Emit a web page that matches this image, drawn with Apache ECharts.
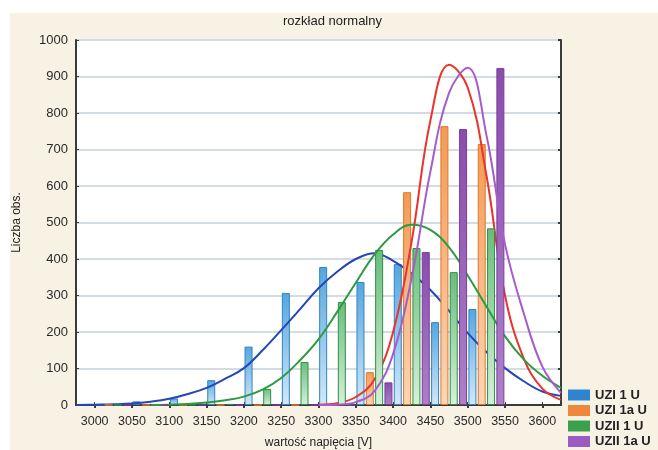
<!DOCTYPE html>
<html>
<head>
<meta charset="utf-8">
<script src="https://cdn.jsdelivr.net/npm/echarts@6/dist/echarts.min.js"></script>
<style>
  html, body { margin: 0; padding: 0; background: #ffffff; }
  #chart { width: 658px; height: 450px; }
</style>
</head>
<body>
<div id="chart"></div>
<script>
// Histogram bins (lower edges, V) and counts per measurement series
const binStarts = [3000, 3050, 3100, 3150, 3200, 3250, 3300, 3350, 3400, 3450, 3500];
const binWidth = 50;
const seriesNames = ['UZI 1 U', 'UZI 1a U', 'UZII 1 U', 'UZII 1a U'];
const countsUZI1   = [0, 10, 18, 68, 160, 307, 378, 337, 386, 227, 263];
const countsUZI1a  = [0, 0, 0, 0, 0, 0, 0, 90, 583, 764, 715];
const countsUZII1  = [0, 0, 1, 3, 44, 118, 282, 425, 430, 364, 484];
const countsUZII1a = [0, 0, 0, 0, 0, 0, 0, 62, 419, 756, 923];

// Fitted normal curves, sampled along the voltage axis
const fitX = [2975, 3000, 3025, 3050, 3075, 3100, 3125, 3150, 3175, 3200, 3225, 3250, 3275, 3300,
              3325, 3350, 3375, 3400, 3425, 3450, 3475, 3500, 3525, 3550, 3575, 3600, 3625];
const fitUZI1   = [0, 1, 2, 4, 9, 17, 30, 47, 72, 101, 150, 205, 262, 320,
                   365, 400, 416, 395, 360, 315, 258, 197, 145, 101, 65, 37, 25];
const fitUZI1a  = [null, null, null, null, null, null, null, null, null, null, null, null, null, 1,
                   5, 22, 70, 200, 450, 780, 932, 870, 630, 300, 128, 45, 14];
const fitUZII1  = [null, null, null, null, 0, 1, 3, 7, 13, 23, 42, 74, 122, 180,
                   255, 335, 412, 467, 494, 480, 432, 355, 270, 188, 125, 80, 47];
const fitUZII1a = [null, null, null, null, null, null, null, null, null, null, null, null, null, 0,
                   1, 8, 38, 140, 350, 640, 855, 924, 740, 440, 252, 105, 33];

// Axis ticks
const xTicks = [3000, 3050, 3100, 3150, 3200, 3250, 3300, 3350, 3400, 3450, 3500, 3550, 3600];
const yTicks = [0, 100, 200, 300, 400, 500, 600, 700, 800, 900, 1000];

const chart = echarts.init(document.getElementById('chart'), null, { renderer: 'canvas' });

const grad = (top, bottom) => new echarts.graphic.LinearGradient(0, 0, 0, 1, [
  { offset: 0, color: top }, { offset: 1, color: bottom }
]);

const barStyles = [
  { color: grad('#56a6de', '#d2e8f8'), borderColor: '#2f84c4' },
  { color: grad('#f39a55', '#fbd6b6'), borderColor: '#e0762a' },
  { color: grad('#68bd7b', '#d6f0da'), borderColor: '#2d8f46' },
  { color: grad('#8a4cad', '#ad80c8'), borderColor: '#7a3d9e' }
];
const legendColors = ['#2f84d0', '#f0883c', '#3aa04e', '#9a5cc0'];
const lineColors = ['#2446b6', '#e8342c', '#2e9a40', '#a65ccb'];
const counts = [countsUZI1, countsUZI1a, countsUZII1, countsUZII1a];
const fits = [fitUZI1, fitUZI1a, fitUZII1, fitUZII1a];

const series = [];
counts.forEach((vals, k) => {
  series.push({
    name: seriesNames[k],
    type: 'bar',
    xAxisIndex: 0,
    yAxisIndex: 0,
    barWidth: 8,
    barGap: '-100%',
    z: 2 + k * 2,
    itemStyle: Object.assign({ borderWidth: 1 }, barStyles[k]),
    data: binStarts.map((b, i) => [b + binWidth * (k + 0.5) / 4, vals[i]])
  });
  series.push({
    name: seriesNames[k] + ' (normal)',
    type: 'line',
    xAxisIndex: 0,
    yAxisIndex: 0,
    smooth: 0.4,
    showSymbol: false,
    symbol: 'none',
    connectNulls: false,
    z: 3 + k * 2,
    lineStyle: { color: lineColors[k], width: 2 },
    itemStyle: { color: lineColors[k] },
    data: fitX.map((x, i) => [x, fits[k][i]])
  });
});

const axisColor = '#3a3a3a';
const plain = v => String(v);

chart.setOption({
  animation: false,
  backgroundColor: '#f7f2e3',
  graphic: [
    { type: 'rect', left: 0, top: 0, shape: { width: 658, height: 13 }, style: { fill: '#ffffff' }, silent: true },
    { type: 'rect', left: 0, top: 0, shape: { width: 10, height: 450 }, style: { fill: '#ffffff' }, silent: true }
  ],
  title: {
    text: 'rozkład normalny',
    left: 283,
    top: 15,
    padding: 0,
    textStyle: { fontFamily: 'Liberation Sans, Arial, sans-serif', fontSize: 13, fontWeight: 'normal', color: '#222' }
  },
  legend: {
    orient: 'vertical',
    left: 568,
    top: 388,
    padding: 0,
    itemWidth: 22,
    itemHeight: 11,
    itemGap: 1.5,
    icon: 'rect',
    textStyle: { fontFamily: 'Liberation Sans, Arial, sans-serif', fontSize: 13, fontWeight: 'bold', color: '#222', lineHeight: 14 },
    data: seriesNames.map((n, k) => ({ name: n, itemStyle: { color: legendColors[k], borderWidth: 0 } }))
  },
  grid: {
    left: 76, right: 97, top: 40, bottom: 45,
    outerBoundsMode: 'none',
    containLabel: false,
    show: true,
    backgroundColor: '#ffffff',
    borderColor: axisColor,
    borderWidth: 0
  },
  xAxis: [
    {
      type: 'value',
      min: 2975,
      max: 3625,
      name: 'wartość napięcia [V]',
      nameLocation: 'middle',
      nameGap: 32,
      nameTextStyle: { fontFamily: 'Liberation Sans, Arial, sans-serif', fontSize: 12, color: '#222' },
      axisLine: { show: true, onZero: false, lineStyle: { color: axisColor, width: 2 } },
      axisTick: { show: true, inside: true, length: 3, customValues: xTicks, lineStyle: { color: axisColor } },
      axisLabel: { customValues: xTicks, formatter: plain, margin: 10, fontFamily: 'Liberation Sans, Arial, sans-serif', fontSize: 12.5, color: '#2a2a2a' },
      splitLine: { show: false }
    },
    {
      type: 'value',
      position: 'top',
      min: 2975,
      max: 3625,
      axisLine: { show: true, lineStyle: { color: axisColor, width: 2 } },
      axisTick: { show: true, inside: true, length: 3, customValues: xTicks, lineStyle: { color: axisColor, width: 2 } },
      axisLabel: { show: false },
      splitLine: { show: false }
    }
  ],
  yAxis: [
    {
      type: 'value',
      min: 0,
      max: 1000,
      interval: 100,
      name: 'Liczba obs.',
      nameLocation: 'middle',
      nameGap: 53,
      nameRotate: 90,
      nameTextStyle: { fontFamily: 'Liberation Sans, Arial, sans-serif', fontSize: 12, color: '#222' },
      axisLine: { show: true, lineStyle: { color: axisColor, width: 2 } },
      axisTick: { show: true, inside: true, length: 3, customValues: yTicks, lineStyle: { color: axisColor } },
      axisLabel: { customValues: yTicks, formatter: plain, margin: 8, fontFamily: 'Liberation Sans, Arial, sans-serif', fontSize: 13, color: '#2a2a2a' },
      splitLine: { show: true, lineStyle: { color: '#d3dce3', width: 2 } }
    },
    {
      type: 'value',
      position: 'right',
      min: 0,
      max: 1000,
      interval: 100,
      axisLine: { show: true, lineStyle: { color: axisColor, width: 2 } },
      axisTick: { show: true, inside: true, length: 3, lineStyle: { color: axisColor, width: 2 } },
      axisLabel: { show: false },
      splitLine: { show: false }
    }
  ],
  series: series
});
</script>
</body>
</html>
